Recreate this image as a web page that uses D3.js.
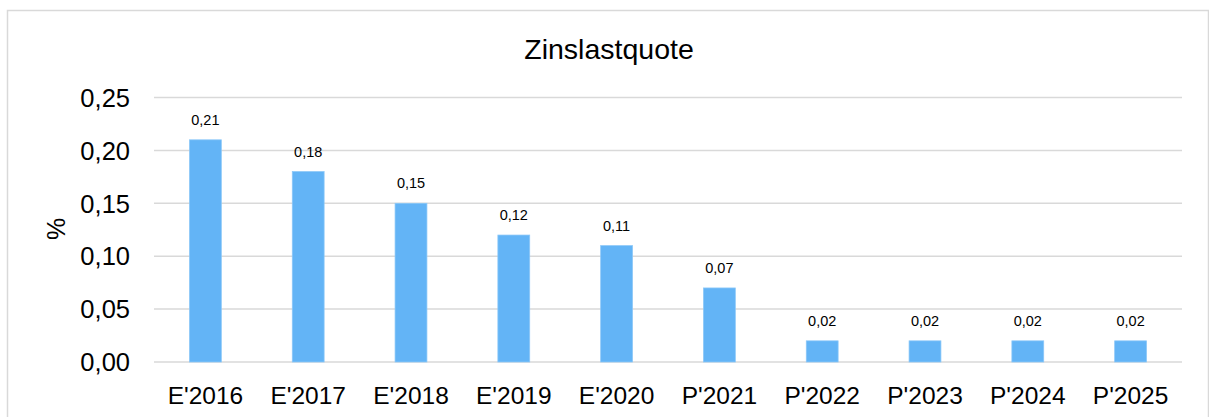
<!DOCTYPE html>
<html><head><meta charset="utf-8">
<script src="https://cdn.jsdelivr.net/npm/d3@7"></script>
<style>body{margin:0;background:#fff;font-family:"Liberation Sans",Arial,sans-serif;}</style>
</head><body>
<svg id="c" width="1209" height="417"></svg>
<script>
const categories = ["E'2016","E'2017","E'2018","E'2019","E'2020","P'2021","P'2022","P'2023","P'2024","P'2025"];
const values = [0.21,0.18,0.15,0.12,0.11,0.07,0.02,0.02,0.02,0.02];
const yTicks = [0,0.05,0.10,0.15,0.20,0.25];
const title = "Zinslastquote";
const yLabel = "%";

const svg = d3.select("#c");
const fmt = v => v.toFixed(2).replace(".", ",");
// chart border
svg.append("rect").attr("x",7.5).attr("y",10.5).attr("width",1201).attr("height",420)
  .attr("fill","#fff").attr("stroke","#d9d9d9").attr("stroke-width",1.5);

const x = d3.scaleBand().domain(categories).range([154,1182]).paddingInner(0.69).paddingOuter(0.345);
const y = d3.scaleLinear().domain([0,0.25]).range([362,97.5]);

svg.append("g").selectAll("line").data(yTicks).join("line")
  .attr("x1",154).attr("x2",1182).attr("y1",d=>y(d)).attr("y2",d=>y(d))
  .attr("stroke","#d9d9d9").attr("stroke-width",1.5);

svg.append("g").selectAll("rect").data(values).join("rect")
  .attr("x",(d,i)=>x(categories[i])).attr("width",x.bandwidth())
  .attr("y",d=>y(d)).attr("height",d=>y(0)-y(d))
  .attr("fill","#63b4f6").attr("stroke","#8cc8f8").attr("stroke-width",0.75);

svg.append("g").selectAll("text").data(values).join("text")
  .attr("x",(d,i)=>x(categories[i])+x.bandwidth()/2).attr("y",d=>y(d)-15)
  .attr("text-anchor","middle").attr("font-size",14.5).attr("fill","#000").text(fmt);

svg.append("g").selectAll("text").data(yTicks).join("text")
  .attr("x",130).attr("y",d=>y(d)+9.2).attr("text-anchor","end")
  .attr("font-size",25.5).attr("fill","#000").text(fmt);

svg.append("g").selectAll("text").data(categories).join("text")
  .attr("x",d=>x(d)+x.bandwidth()/2).attr("y",404).attr("text-anchor","middle")
  .attr("font-size",24.5).attr("fill","#000").text(d=>d);

svg.append("text").attr("x",609).attr("y",59).attr("text-anchor","middle")
  .attr("font-size",28.5).attr("fill","#000").text(title);

svg.append("text").attr("transform","translate(65,229) rotate(-90)").attr("text-anchor","middle")
  .attr("font-size",25).attr("fill","#000").text(yLabel);
</script>
</body></html>
